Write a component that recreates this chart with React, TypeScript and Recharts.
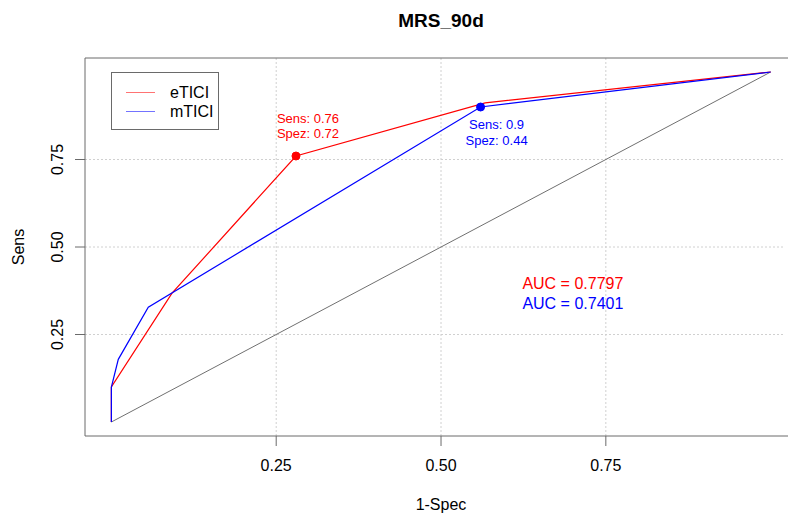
import React from 'react';
import {
  LineChart,
  Line,
  XAxis,
  YAxis,
  ReferenceLine,
  ReferenceDot,
  Legend,
} from 'recharts';

const FONT = '"Liberation Sans", Arial, sans-serif';
const RED = '#ff0000';
const BLUE = '#0000ff';
const FRAME = '#6a6a6a';
const GRID = '#d0d0d0';

// ROC points (x = 1-Spec, y = Sens)
const eticiX = [0, 0, 0.092, 0.28, 0.567, 1];
const eticiY = [0, 0.1, 0.368, 0.76, 0.912, 1];
const mticiX = [0, 0, 0.0105, 0.056, 0.56, 1];
const mticiY = [0, 0.1, 0.179, 0.328, 0.9, 1];
const diagX = [0, 1];
const diagY = [0, 1];

const ticks = [0.25, 0.5, 0.75];
// R pads the range by 4%; the right side of the frame is cut off by the picture edge
const X_DOMAIN: [number, number] = [-0.04, 1.0263];
const Y_DOMAIN: [number, number] = [-0.04, 1.04];

// best cut-off points and their labels
const eticiBest = { x: 0.28, y: 0.76, lines: ['Sens: 0.76', 'Spez: 0.72'] };
const mticiBest = { x: 0.56, y: 0.9, lines: ['Sens: 0.9', 'Spez: 0.44'] };

// AUC labels, placed at data coordinates
const aucLabels = [
  { x: 0.7, y: 0.396, text: 'AUC = 0.7797', color: RED },
  { x: 0.7, y: 0.339, text: 'AUC = 0.7401', color: BLUE },
];

const toPoints = (xs: number[], ys: number[]) => xs.map((x, i) => ({ x, y: ys[i] }));

const eticiData = toPoints(eticiX, eticiY);
const mticiData = toPoints(mticiX, mticiY);
const diagData = toPoints(diagX, diagY);

function YTick(props: any) {
  const { x, y, payload } = props;
  const tx = x - 16;
  return (
    <text
      x={tx}
      y={y}
      transform={`rotate(-90 ${tx} ${y})`}
      textAnchor="middle"
      dy="0.35em"
      fontSize={16}
      fontFamily={FONT}
      fill="#000"
    >
      {Number(payload.value).toFixed(2)}
    </text>
  );
}

function bestShape(color: string, lines: string[], dx: number, dy: number[]) {
  return (props: any) => {
    const { cx, cy } = props;
    return (
      <g>
        <circle cx={cx} cy={cy} r={4} fill={color} stroke={color} />
        {lines.map((t, i) => (
          <text
            key={t}
            x={cx + dx}
            y={cy + dy[i]}
            dy="0.35em"
            textAnchor="middle"
            fontSize={13}
            fontFamily={FONT}
            fill={color}
          >
            {t}
          </text>
        ))}
      </g>
    );
  };
}

function textShape(text: string, color: string) {
  return (props: any) => (
    <text
      x={props.cx}
      y={props.cy}
      dy="0.35em"
      textAnchor="middle"
      fontSize={16}
      fontFamily={FONT}
      fill={color}
    >
      {text}
    </text>
  );
}

function LegendBox(props: any) {
  const items = (props.payload || []).filter((p: any) => p.value !== 'diag');
  return (
    <div
      style={{
        width: 108,
        height: 58,
        border: `1px solid ${FRAME}`,
        boxSizing: 'border-box',
        background: '#fff',
        position: 'relative',
        fontFamily: FONT,
        fontSize: 16,
      }}
    >
      {items.map((it: any, i: number) => (
        <div
          key={it.value}
          style={{ position: 'absolute', left: 0, top: 10 + i * 19, height: 19, display: 'flex', alignItems: 'center' }}
        >
          <div style={{ marginLeft: 14, width: 29, height: 1, background: it.color, opacity: 0.55 }} />
          <span style={{ marginLeft: 15, color: '#000', lineHeight: '19px' }}>{it.value}</span>
        </div>
      ))}
    </div>
  );
}

export default function App() {
  return (
    <div
      style={{
        position: 'relative',
        width: 788,
        height: 514,
        overflow: 'hidden',
        background: '#fff',
        fontFamily: FONT,
      }}
    >
      <style>{'html, body { margin: 0; padding: 0; }'}</style>
      <LineChart width={788} height={514} margin={{ top: 58, right: 0, bottom: 0, left: 0 }}>
        <XAxis
          type="number"
          dataKey="x"
          domain={X_DOMAIN}
          ticks={ticks}
          allowDataOverflow
          height={78}
          axisLine={false}
          tickLine={{ stroke: FRAME }}
          tickSize={10}
          tickMargin={14}
          tick={{ fill: '#000', fontSize: 16, fontFamily: FONT }}
          tickFormatter={(v: number) => v.toFixed(2)}
        />
        <YAxis
          type="number"
          dataKey="y"
          domain={Y_DOMAIN}
          ticks={ticks}
          allowDataOverflow
          width={85}
          axisLine={false}
          tickLine={{ stroke: FRAME }}
          tickSize={10}
          tick={<YTick />}
        />
        {/* dotted grid at the tick positions */}
        {ticks.map((t) => (
          <ReferenceLine key={`gx${t}`} x={t} stroke={GRID} strokeDasharray="2 2" />
        ))}
        {ticks.map((t) => (
          <ReferenceLine key={`gy${t}`} y={t} stroke={GRID} strokeDasharray="2 2" />
        ))}
        {/* plot frame: top, left, bottom */}
        <ReferenceLine y={Y_DOMAIN[1]} stroke={FRAME} ifOverflow="visible" />
        <ReferenceLine y={Y_DOMAIN[0]} stroke={FRAME} ifOverflow="visible" />
        <ReferenceLine x={X_DOMAIN[0]} stroke={FRAME} ifOverflow="visible" />
        <Line
          data={diagData}
          dataKey="y"
          name="diag"
          stroke="#707070"
          strokeWidth={1}
          dot={false}
          activeDot={false}
          legendType="none"
          isAnimationActive={false}
        />
        <Line
          data={eticiData}
          dataKey="y"
          name="eTICI"
          stroke={RED}
          strokeWidth={1.2}
          dot={false}
          activeDot={false}
          isAnimationActive={false}
        />
        <Line
          data={mticiData}
          dataKey="y"
          name="mTICI"
          stroke={BLUE}
          strokeWidth={1.2}
          dot={false}
          activeDot={false}
          isAnimationActive={false}
        />
        <ReferenceDot
          x={eticiBest.x}
          y={eticiBest.y}
          r={4}
          shape={bestShape(RED, eticiBest.lines, 12, [-38, -23])}
        />
        <ReferenceDot
          x={mticiBest.x}
          y={mticiBest.y}
          r={4}
          shape={bestShape(BLUE, mticiBest.lines, 16, [17, 33])}
        />
        {aucLabels.map((a) => (
          <ReferenceDot key={a.text} x={a.x} y={a.y} r={0} shape={textShape(a.text, a.color)} />
        ))}
        <Legend
          layout="horizontal"
          align="center"
          verticalAlign="middle"
          content={<LegendBox />}
          wrapperStyle={{ position: 'absolute', left: 111, top: 72, width: 108, height: 58 }}
        />
      </LineChart>
      <svg
        width={788}
        height={514}
        style={{ position: 'absolute', left: 0, top: 0, pointerEvents: 'none' }}
      >
        {/* the frame is open on the right: mask the edge of the plot box */}
        <rect x={783} y={59} width={5} height={376} fill="#fff" />
        <text x={441} y={20} dy="0.35em" textAnchor="middle" fontSize={19} fontWeight="bold" fontFamily={FONT}>
          MRS_90d
        </text>
        <text x={441} y={504} dy="0.35em" textAnchor="middle" fontSize={16} fontFamily={FONT}>
          1-Spec
        </text>
        <text
          x={18}
          y={247}
          transform="rotate(-90 18 247)"
          dy="0.35em"
          textAnchor="middle"
          fontSize={16}
          fontFamily={FONT}
        >
          Sens
        </text>
      </svg>
    </div>
  );
}
